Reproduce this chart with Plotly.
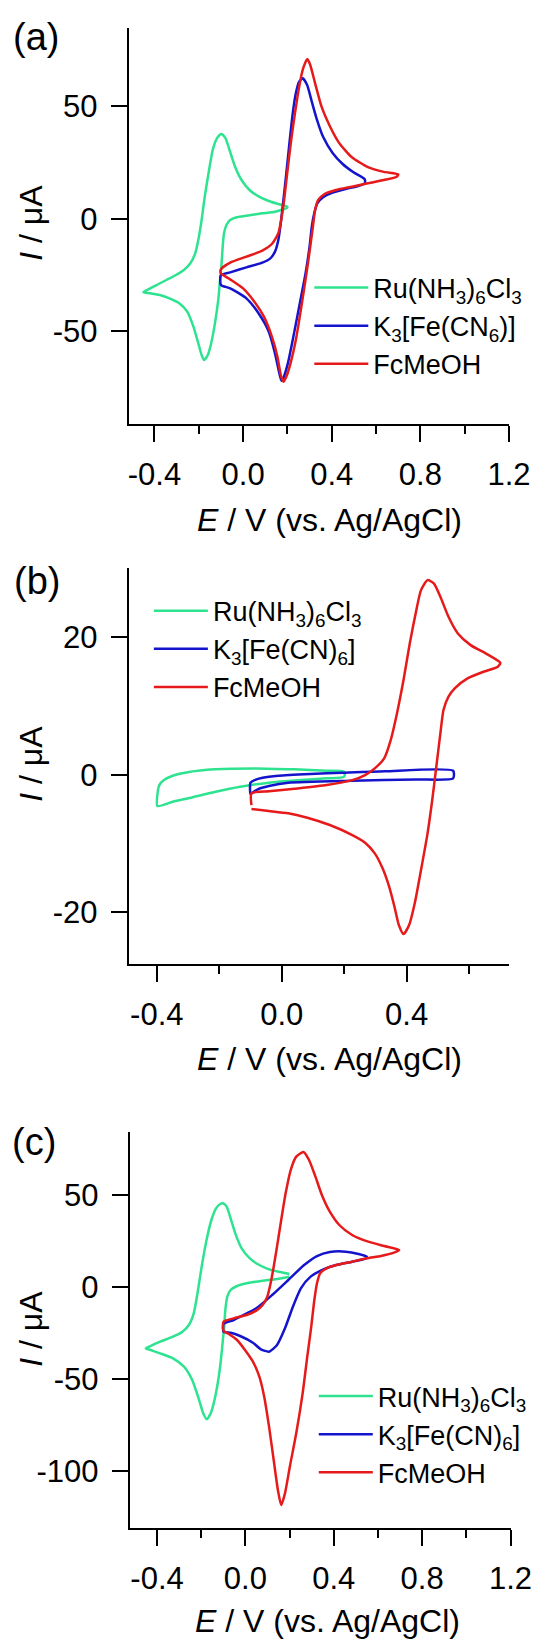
import plotly.graph_objects as go

# ---------------- data (E in V vs Ag/AgCl, I in uA) ----------------
# panel (a)
E_a_ru = [0.199, 0.144, 0.087, 0.015, -0.029, -0.058, -0.075, -0.086, -0.092, -0.098, -0.104, -0.112, -0.127, -0.144, -0.159, -0.176, -0.187, -0.202, -0.224, -0.252, -0.288, -0.332, -0.375, -0.418, -0.450, -0.433, -0.390, -0.346, -0.303, -0.267, -0.238, -0.216, -0.202, -0.187, -0.173, -0.156, -0.137, -0.118, -0.098, -0.079, -0.061, -0.036, -0.007, 0.029, 0.072, 0.116, 0.159, 0.199, 0.199]
I_a_ru = [4.99, 3.21, 2.47, 1.44, 0.70, -0.49, -2.71, -6.41, -12.34, -21.23, -27.16, -36.04, -46.41, -55.3, -60.49, -62.71, -60.49, -55.3, -47.9, -41.23, -37.52, -35.3, -33.82, -33.08, -32.64, -31.6, -29.38, -27.16, -24.93, -22.71, -19.75, -15.3, -9.38, -0.49, 9.88, 20.25, 30.62, 35.81, 37.73, 35.81, 30.62, 23.21, 17.29, 12.84, 9.88, 7.96, 6.62, 5.44, 4.99]

E_a_fe = [-0.100, -0.100, -0.058, 0.015, 0.087, 0.123, 0.144, 0.159, 0.170, 0.182, 0.195, 0.209, 0.224, 0.238, 0.253, 0.269, 0.289, 0.310, 0.332, 0.361, 0.404, 0.448, 0.498, 0.549, 0.549, 0.520, 0.462, 0.404, 0.361, 0.335, 0.321, 0.310, 0.300, 0.282, 0.253, 0.224, 0.202, 0.181, 0.173, 0.162, 0.144, 0.116, 0.072, 0.015, -0.058, -0.100]
I_a_fe = [-29.38, -25.08, -23.75, -21.52, -19.45, -17.53, -14.56, -9.38, -1.97, 8.4, 20.25, 33.59, 46.92, 55.81, 60.99, 62.47, 59.51, 52.1, 44.5, 36.5, 29.3, 24.5, 20.7, 17.59, 15.81, 14.62, 13.29, 11.66, 9.59, 6.92, 2.47, -3.45, -12.34, -24.19, -39.01, -53.82, -64.19, -70.86, -71.9, -67.9, -59.75, -50.12, -42.27, -35.3, -30.86, -29.38]

E_a_fc = [-0.100, -0.100, -0.058, 0.015, 0.087, 0.130, 0.159, 0.173, 0.185, 0.199, 0.217, 0.234, 0.253, 0.271, 0.290, 0.303, 0.325, 0.354, 0.390, 0.433, 0.491, 0.563, 0.635, 0.700, 0.693, 0.635, 0.563, 0.491, 0.419, 0.368, 0.339, 0.325, 0.315, 0.303, 0.286, 0.263, 0.238, 0.214, 0.195, 0.182, 0.170, 0.155, 0.130, 0.094, 0.051, 0.000, -0.058, -0.100]
I_a_fc = [-24.19, -22.41, -19.45, -16.79, -14.12, -11.16, -6.41, 0.25, 8.4, 20.25, 35.07, 46.92, 58.77, 66.92, 71.07, 68.4, 60.25, 49.88, 41.5, 33.8, 27.4, 23.0, 20.9, 19.81, 18.77, 17.29, 15.81, 14.32, 12.84, 11.07, 8.4, 3.96, -3.45, -12.34, -24.19, -39.01, -53.82, -64.19, -70.12, -72.34, -69.38, -61.23, -52.34, -43.45, -36.79, -30.86, -26.86, -24.19]

# panel (b)
E_b_ru = [0.200, 0.144, 0.041, -0.082, -0.215, -0.297, -0.349, -0.377, -0.392, -0.397, -0.398, -0.349, -0.287, -0.215, -0.133, -0.041, 0.062, 0.144, 0.200, 0.200]
I_b_ru = [0.43, 0.57, 0.77, 0.91, 0.77, 0.38, -0.16, -0.79, -1.51, -2.48, -4.57, -3.94, -3.31, -2.53, -1.76, -1.17, -0.79, -0.54, -0.30, 0.43]

E_b_fe = [-0.100, -0.100, -0.087, -0.061, -0.010, 0.092, 0.195, 0.330, 0.549, 0.549, 0.431, 0.226, 0.021, -0.041, -0.077, -0.094, -0.100]
I_b_fe = [-2.82, -1.17, -0.79, -0.45, -0.16, 0.09, 0.28, 0.50, 0.57, -0.54, -0.69, -0.88, -1.17, -1.66, -2.14, -2.63, -2.82]

E_b_fc = [-0.097, -0.097, -0.041, 0.041, 0.144, 0.226, 0.267, 0.298, 0.328, 0.349, 0.369, 0.390, 0.410, 0.431, 0.446, 0.467, 0.487, 0.508, 0.534, 0.564, 0.605, 0.657, 0.700, 0.692, 0.646, 0.595, 0.554, 0.534, 0.518, 0.508, 0.495, 0.482, 0.467, 0.446, 0.426, 0.408, 0.390, 0.375, 0.361, 0.344, 0.323, 0.298, 0.267, 0.226, 0.154, 0.082, 0.021, -0.041, -0.097]
I_b_fc = [-4.42, -2.72, -2.43, -2.05, -1.51, -0.79, -0.06, 0.91, 2.37, 5.03, 8.91, 13.76, 19.09, 23.94, 26.85, 28.31, 27.82, 25.88, 22.97, 20.55, 18.85, 17.54, 16.28, 15.7, 14.97, 14.0, 12.55, 11.34, 9.4, 6.0, 1.15, -3.69, -8.54, -13.88, -18.72, -21.88, -23.19, -21.88, -19.21, -16.3, -13.63, -11.45, -9.9, -8.79, -7.33, -6.26, -5.63, -5.29, -5.0]

# panel (c)
E_c_ru = [0.199, 0.136, 0.078, 0.005, -0.038, -0.067, -0.082, -0.091, -0.096, -0.102, -0.111, -0.123, -0.140, -0.157, -0.175, -0.191, -0.212, -0.241, -0.278, -0.328, -0.386, -0.430, -0.451, -0.430, -0.386, -0.328, -0.285, -0.256, -0.234, -0.217, -0.198, -0.176, -0.154, -0.133, -0.114, -0.102, -0.085, -0.067, -0.046, -0.017, 0.020, 0.063, 0.107, 0.157, 0.199]
I_c_ru = [5.74, 4.29, 3.56, 2.11, 0.65, -1.53, -5.16, -12.42, -21.5, -28.76, -39.65, -50.54, -61.44, -68.7, -71.97, -68.7, -60.53, -50.54, -43.28, -38.74, -36.02, -34.2, -33.3, -32.03, -29.67, -26.94, -24.22, -20.59, -14.23, -3.34, 11.18, 25.71, 36.6, 42.96, 45.32, 45.68, 43.86, 37.51, 29.34, 21.17, 15.72, 12.09, 9.73, 8.28, 7.19]

E_c_fe = [-0.099, -0.099, -0.053, -0.024, 0.049, 0.121, 0.194, 0.266, 0.324, 0.382, 0.454, 0.512, 0.549, 0.549, 0.483, 0.411, 0.353, 0.295, 0.251, 0.215, 0.179, 0.143, 0.107, 0.070, 0.034, -0.024, -0.067, -0.099]
I_c_fe = [-24.22, -20.04, -17.86, -16.05, -11.51, -4.25, 3.92, 12.09, 16.99, 19.17, 19.35, 18.08, 16.63, 15.72, 13.9, 12.09, 9.73, 5.74, -0.62, -10.6, -22.4, -31.48, -35.11, -33.84, -30.21, -26.58, -24.77, -24.22]

E_c_fc = [-0.099, -0.099, -0.053, 0.005, 0.049, 0.078, 0.099, 0.114, 0.128, 0.143, 0.162, 0.182, 0.205, 0.230, 0.263, 0.288, 0.317, 0.346, 0.382, 0.425, 0.483, 0.556, 0.628, 0.696, 0.672, 0.614, 0.549, 0.483, 0.411, 0.367, 0.338, 0.324, 0.312, 0.298, 0.280, 0.259, 0.230, 0.201, 0.179, 0.162, 0.147, 0.128, 0.107, 0.085, 0.063, 0.034, -0.002, -0.038, -0.075, -0.099]
I_c_fc = [-23.67, -18.77, -16.96, -15.14, -12.78, -9.69, -5.16, 2.11, 11.18, 22.08, 36.6, 51.13, 63.83, 71.1, 73.64, 69.28, 60.2, 50.22, 41.14, 33.88, 28.43, 24.8, 22.44, 20.26, 18.81, 16.99, 15.72, 13.9, 12.09, 10.28, 7.55, 2.11, -6.97, -21.5, -37.84, -57.8, -79.59, -97.75, -112.27, -118.63, -110.46, -94.12, -75.96, -59.62, -48.73, -40.56, -34.2, -28.76, -25.49, -23.67]

names_a = ["Ru(NH<sub>3</sub>)<sub>6</sub>Cl<sub>3</sub>", "K<sub>3</sub>[Fe(CN<sub>6</sub>)]", "FcMeOH"]
names_bc = ["Ru(NH<sub>3</sub>)<sub>6</sub>Cl<sub>3</sub>", "K<sub>3</sub>[Fe(CN)<sub>6</sub>]", "FcMeOH"]
panel_labels = ["(a)", "(b)", "(c)"]

# tick values / labels
xtick_vals_ac = [-0.4, 0.0, 0.4, 0.8, 1.2]
xtick_text_ac = ["-0.4", "0.0", "0.4", "0.8", "1.2"]
xminor_ac = [-0.2, 0.2, 0.6, 1.0]
xtick_vals_b = [-0.4, 0.0, 0.4]
xtick_text_b = ["-0.4", "0.0", "0.4"]
xminor_b = [-0.2, 0.2, 0.6]
ytick_vals_a = [-50, 0, 50]
ytick_text_a = ["-50", "0", "50"]
ytick_vals_b = [-20, 0, 20]
ytick_text_b = ["-20", "0", "20"]
ytick_vals_c = [-100, -50, 0, 50]
ytick_text_c = ["-100", "-50", "0", "50"]

# ---------------- style ----------------
W, H = 557, 1642
FONT = "Liberation Sans, Arial, sans-serif"
COLORS = ["#2ee38f", "#1414cc", "#e61a1a"]
LW = 2.5

fig = go.Figure()

panels = [
    ([(E_a_ru, I_a_ru), (E_a_fe, I_a_fe), (E_a_fc, I_a_fc)], names_a, "x", "y", "legend"),
    ([(E_b_ru, I_b_ru), (E_b_fe, I_b_fe), (E_b_fc, I_b_fc)], names_bc, "x2", "y2", "legend2"),
    ([(E_c_ru, I_c_ru), (E_c_fe, I_c_fe), (E_c_fc, I_c_fc)], names_bc, "x3", "y3", "legend3"),
]
for series, names, xa, ya, lg in panels:
    for (ex, iy), nm, col in zip(series, names, COLORS):
        fig.add_trace(go.Scatter(x=ex, y=iy, mode="lines", name=nm,
                                 line=dict(color=col, width=LW, shape="spline", smoothing=0.6),
                                 xaxis=xa, yaxis=ya, legend=lg))


def px_x(p):
    return p / W


def px_y(p):
    return 1 - p / H


axis_common = dict(showline=True, linecolor="black", linewidth=2, ticks="outside",
                   ticklen=16, tickwidth=2, tickcolor="black", showgrid=False,
                   zeroline=False, mirror=False, tickmode="array",
                   tickfont=dict(family=FONT, size=31, color="black"))

xdoms = [(134, 530), (134, 530), (135, 531.5)]
ydoms = [(28, 423.5), (568, 964), (1132, 1528)]
xranges = [[-0.516, 1.2], [-0.49, 0.728], [-0.524, 1.2]]
yranges = [[-90.93, 84.84], [-27.55, 30.07], [-131.15, 84.53]]
xticks = [(xtick_vals_ac, xtick_text_ac, xminor_ac), (xtick_vals_b, xtick_text_b, xminor_b),
          (xtick_vals_ac, xtick_text_ac, xminor_ac)]
yticks = [(ytick_vals_a, ytick_text_a), (ytick_vals_b, ytick_text_b), (ytick_vals_c, ytick_text_c)]

layout = dict(width=W, height=H, margin=dict(l=0, r=0, t=0, b=0), autosize=False,
              paper_bgcolor="white", plot_bgcolor="white",
              font=dict(family=FONT, color="black"))
for k in range(3):
    sx = "" if k == 0 else str(k + 1)
    tv, tt, mv = xticks[k]
    layout["xaxis" + sx] = dict(axis_common, domain=[px_x(xdoms[k][0]), px_x(xdoms[k][1])],
                                range=xranges[k], anchor="y" + sx,
                                tickvals=tv, ticktext=tt, ticklabelstandoff=6,
                                minor=dict(ticks="outside", ticklen=8, tickwidth=2,
                                           tickcolor="black", tickmode="array", tickvals=mv))
    yv, yt = yticks[k]
    layout["yaxis" + sx] = dict(axis_common, domain=[px_y(ydoms[k][1]), px_y(ydoms[k][0])],
                                range=yranges[k], anchor="x" + sx,
                                tickvals=yv, ticktext=yt, ticklabelstandoff=7)

leg_common = dict(font=dict(family=FONT, size=27, color="black"), bgcolor="rgba(0,0,0,0)",
                  borderwidth=0, xanchor="left", yanchor="top", itemwidth=54,
                  tracegroupgap=0)
layout["legend"] = dict(leg_common, x=px_x(322), y=px_y(263.5))
layout["legend2"] = dict(leg_common, x=px_x(155), y=px_y(586.7))
layout["legend3"] = dict(leg_common, x=px_x(326.7), y=px_y(1372))

ann = []
lab_pos = [(38, 37), (39, 581), (35, 1141.5)]
xt_pos = [(343, 520), (343, 1059), (341, 1621)]
yt_pos = [(32, 223), (32, 764), (32, 1329)]
for k in range(3):
    ann.append(dict(text=panel_labels[k], x=px_x(lab_pos[k][0]), y=px_y(lab_pos[k][1]),
                    xref="paper", yref="paper", showarrow=False, xanchor="center",
                    yanchor="middle", font=dict(family=FONT, size=38, color="black")))
    ann.append(dict(text="<i>E</i> / V (vs. Ag/AgCl)", x=px_x(xt_pos[k][0]), y=px_y(xt_pos[k][1]),
                    xref="paper", yref="paper", showarrow=False, xanchor="center",
                    yanchor="middle", font=dict(family=FONT, size=32, color="black")))
    ann.append(dict(text="<i>I</i> / μA", x=px_x(yt_pos[k][0]), y=px_y(yt_pos[k][1]),
                    xref="paper", yref="paper", showarrow=False, xanchor="center",
                    yanchor="middle", textangle=-90,
                    font=dict(family=FONT, size=32, color="black")))
layout["annotations"] = ann

fig.update_layout(**layout)
fig.write_html("out.html")
